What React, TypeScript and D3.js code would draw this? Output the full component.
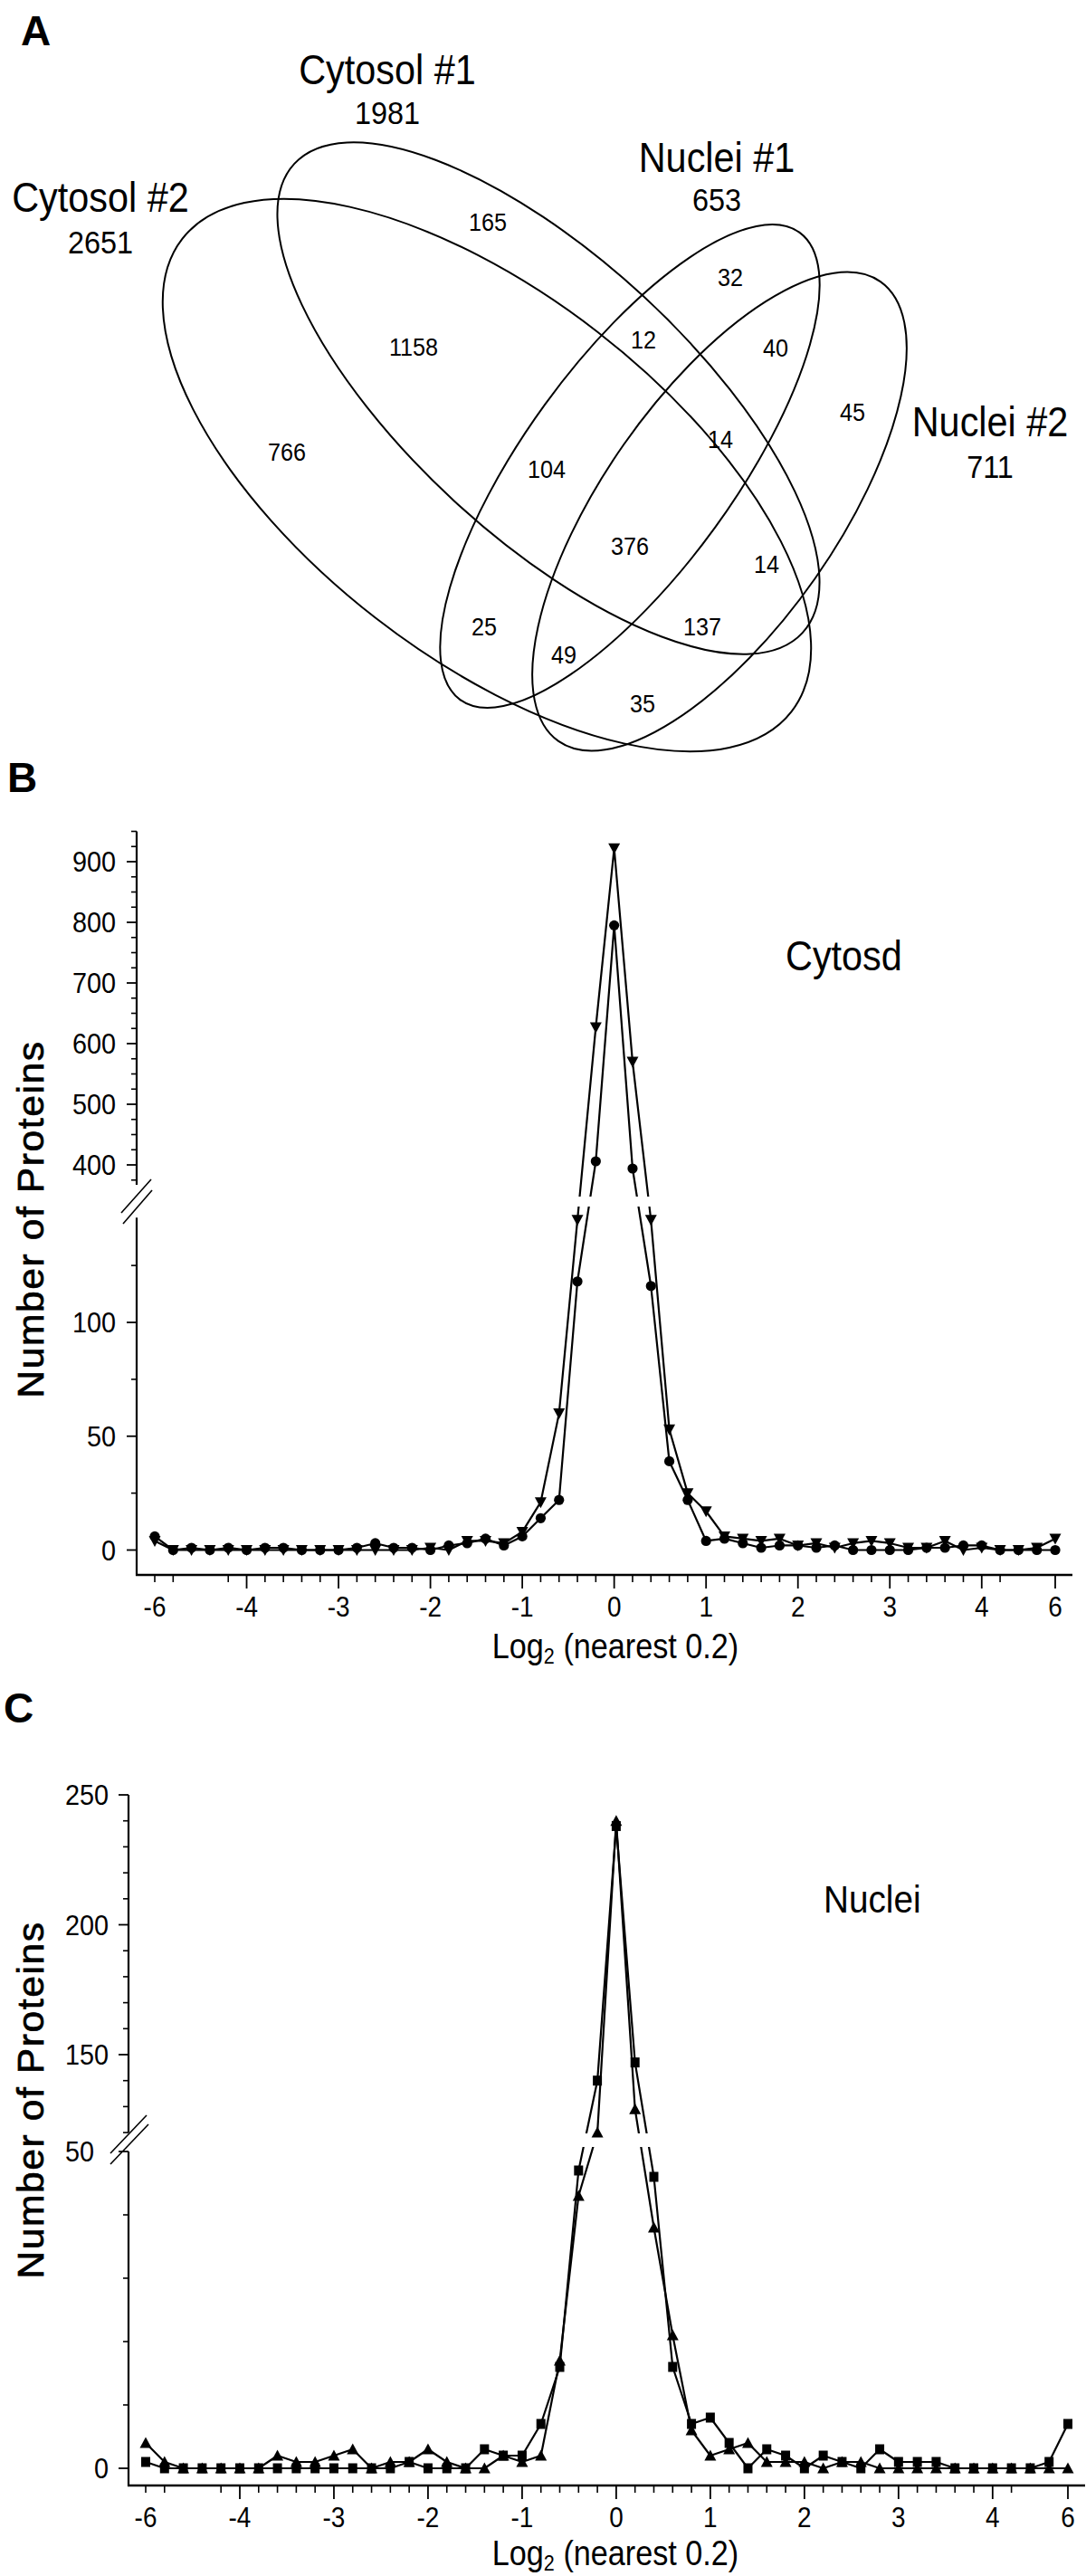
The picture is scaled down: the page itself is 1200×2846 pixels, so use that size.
import React from "react";
import * as d3 from "d3";

// ---------------- DATA ----------------
// Venn diagram (panel A)
const vennSetNames = ["Cytosol #2", "Cytosol #1", "Nuclei #1", "Nuclei #2"];
const vennSetTotals = [2651, 1981, 653, 711];
const vennRegionCounts = [165, 32, 1158, 12, 40, 45, 14, 766, 104, 376, 14, 25, 137, 49, 35];

// Histogram bins (log2 ratio, nearest 0.2); first bin labelled -6, last bin labelled 6
const binPos = [
  -5.0, -4.8, -4.6, -4.4, -4.2, -4.0, -3.8, -3.6, -3.4, -3.2,
  -3.0, -2.8, -2.6, -2.4, -2.2, -2.0, -1.8, -1.6, -1.4, -1.2,
  -1.0, -0.8, -0.6, -0.4, -0.2, 0.0, 0.2, 0.4, 0.6, 0.8,
  1.0, 1.2, 1.4, 1.6, 1.8, 2.0, 2.2, 2.4, 2.6, 2.8,
  3.0, 3.2, 3.4, 3.6, 3.8, 4.0, 4.2, 4.4, 4.6, 4.8,
];
const xTickPos = [-5, -4, -3, -2, -1, 0, 1, 2, 3, 4, 4.8];
const xTickLabels = ["-6", "-4", "-3", "-2", "-1", "0", "1", "2", "3", "4", "6"];
const xMinorSkip = [-4.6, -4.4, 4.4, 4.6];

// Panel B: cytosol
const cytCircle = [
  6, 0, 1, 0, 1, 0, 1, 1, 0, 0,
  0, 1, 3, 1, 1, 0, 2, 3, 5, 2,
  6, 14, 22, 118, 406, 795, 394, 116, 39, 22,
  4, 5, 3, 1, 2, 2, 1, 2, 0, 0,
  0, 0, 1, 1, 2, 2, 0, 0, 0, 0,
];
const cytTriangle = [
  4, 0, 0, 0, 0, 0, 0, 0, 0, 0,
  0, 0, 0, 0, 0, 1, 0, 4, 4, 3,
  8, 21, 60, 145, 627, 922, 570, 145, 53, 25,
  17, 6, 5, 4, 5, 2, 3, 1, 3, 4,
  3, 1, 1, 4, 0, 1, 0, 0, 1, 5,
];
const bUpperLabels = [400, 500, 600, 700, 800, 900];
const bLowerLabels = [0, 50, 100];

// Panel C: nuclei
const nucSquare = [
  1, 0, 0, 0, 0, 0, 0, 0, 0, 0,
  0, 0, 0, 0, 1, 0, 0, 0, 3, 2,
  2, 7, 16, 47, 140, 238, 147, 46, 16, 7,
  8, 4, 0, 3, 2, 0, 2, 1, 0, 3,
  1, 1, 1, 0, 0, 0, 0, 0, 1, 7,
];
const nucTriangle = [
  4, 1, 0, 0, 0, 0, 0, 2, 1, 1,
  2, 3, 0, 1, 1, 3, 1, 0, 0, 2,
  1, 2, 17, 43, 120, 240, 129, 38, 21, 6,
  2, 3, 4, 1, 1, 1, 0, 1, 1, 0,
  0, 0, 0, 0, 0, 0, 0, 0, 0, 0,
];
const cUpperLabels = [150, 200, 250];
const cLowerLabels = [0, 50];

// ---------------- LAYOUT ----------------
const FONT = "'Liberation Sans', Arial, Helvetica, sans-serif";
const SX = 0.9;

const ellipseGeom = [
  { cx: 538, cy: 525, rx: 426, ry: 200, rot: 37.8 },
  { cx: 606, cy: 440, rx: 382, ry: 154, rot: 42.7 },
  { cx: 696, cy: 515, rx: 319, ry: 116, rot: -54 },
  { cx: 795, cy: 565, rx: 310, ry: 129, rot: -55 },
];
const setLabelPos = [
  { x: 111, y: 218, ny: 267 },
  { x: 428, y: 77, ny: 124 },
  { x: 792, y: 174, ny: 220 },
  { x: 1094, y: 466, ny: 515 },
];
const regionPos = [
  [539, 245], [807, 306], [457, 383], [711, 375], [857, 384], [942, 455],
  [796, 485], [317, 499], [604, 518], [696, 603], [847, 623], [535, 692],
  [776, 692], [623, 723], [710, 777],
];

function NT({ x, y, size, anchor = "middle", children, weight = "normal", sx = SX }: any) {
  return (
    <text
      transform={`translate(${x},${y}) scale(${sx},1)`}
      fontSize={size}
      textAnchor={anchor}
      fontFamily={FONT}
      fontWeight={weight}
      fill="#000"
    >
      {children}
    </text>
  );
}

function Panel(props: any) {
  const {
    axisX, xAxisY, xRange, up, low, thresh, gap, upperLine, lowerLine,
    upperLabels, upperMinor, lowerLabels, lowerMinor, breakMarks,
    series, title, titlePos, yTitleY, tickLabelX, lowerLabelShift, xTitleY,
  } = props;
  const x = d3.scaleLinear().domain([-5, 4.8]).range(xRange);
  const yU = d3.scaleLinear().domain(up.dom).range(up.rng);
  const yL = d3.scaleLinear().domain(low.dom).range(low.rng);
  const y = (v: number) => (v >= thresh ? yU(v) : yL(v));
  const line = d3
    .line<number>()
    .x((_, i) => x(binPos[i]))
    .y((d) => y(d));
  const rightEnd = xRange[1] + 19;

  const marker = (kind: string, cx: number, cy: number, k: number) => {
    if (kind === "circle") return <circle key={k} cx={cx} cy={cy} r={5.6} fill="#000" />;
    if (kind === "down")
      return <path key={k} d={`M${cx - 6.5},${cy - 5.5}L${cx + 6.5},${cy - 5.5}L${cx},${cy + 6.5}Z`} fill="#000" />;
    if (kind === "up")
      return <path key={k} d={`M${cx - 6.5},${cy + 5.5}L${cx + 6.5},${cy + 5.5}L${cx},${cy - 6.5}Z`} fill="#000" />;
    return <rect key={k} x={cx - 5} y={cy - 5.5} width={10} height={11} fill="#000" />;
  };

  const minorX = binPos.filter(
    (p) => !xMinorSkip.some((s) => Math.abs(s - p) < 1e-6) && !xTickPos.slice(1).some((s) => Math.abs(s - p) < 1e-6)
  );

  return (
    <g>
      {/* data lines */}
      {series.map((s: any, i: number) => (
        <path key={"l" + i} d={line(s.values) || ""} fill="none" stroke="#000" strokeWidth={2.2} strokeLinejoin="round" />
      ))}
      {/* break gap in data */}
      <rect x={axisX + 2} y={gap[0]} width={rightEnd - axisX} height={gap[1] - gap[0]} fill="#fff" />
      {/* markers */}
      {series.map((s: any, i: number) => (
        <g key={"m" + i}>{s.values.map((v: number, j: number) => marker(s.kind, x(binPos[j]), y(v), j))}</g>
      ))}
      {/* y axis */}
      <line x1={axisX} x2={axisX} y1={yU(upperLine[0])} y2={yU(upperLine[1])} stroke="#000" strokeWidth={2.2} />
      <line x1={axisX} x2={axisX} y1={yL(lowerLine)} y2={xAxisY + 1} stroke="#000" strokeWidth={2.2} />
      {upperLabels.map((t: number) => (
        <g key={"ul" + t}>
          <line x1={axisX - 11} x2={axisX} y1={yU(t)} y2={yU(t)} stroke="#000" strokeWidth={1.8} />
          <NT x={tickLabelX} y={yU(t) + 11} size={32} anchor="end">{t}</NT>
        </g>
      ))}
      {upperMinor.map((t: number) => (
        <line key={"um" + t} x1={axisX - 6} x2={axisX} y1={yU(t)} y2={yU(t)} stroke="#000" strokeWidth={1.6} />
      ))}
      {lowerLabels.map((t: number) => (
        <g key={"ll" + t}>
          <line x1={axisX - 11} x2={axisX} y1={yL(t)} y2={yL(t)} stroke="#000" strokeWidth={1.8} />
          <NT x={tickLabelX - (lowerLabelShift[t] || 0)} y={yL(t) + 11} size={32} anchor="end">{t}</NT>
        </g>
      ))}
      {lowerMinor.map((t: number) => (
        <line key={"lm" + t} x1={axisX - 6} x2={axisX} y1={yL(t)} y2={yL(t)} stroke="#000" strokeWidth={1.6} />
      ))}
      {breakMarks.map((b: number[], i: number) => (
        <line key={"bk" + i} x1={b[0]} y1={b[1]} x2={b[2]} y2={b[3]} stroke="#000" strokeWidth={1.6} />
      ))}
      {/* x axis */}
      <line x1={axisX - 1} x2={rightEnd} y1={xAxisY} y2={xAxisY} stroke="#000" strokeWidth={2.4} />
      {minorX.map((p, i) => (
        <line key={"xm" + i} x1={x(p)} x2={x(p)} y1={xAxisY} y2={xAxisY + 8} stroke="#000" strokeWidth={1.6} />
      ))}
      {xTickPos.map((p, i) => (
        <g key={"xt" + i}>
          {i > 0 && <line x1={x(p)} x2={x(p)} y1={xAxisY} y2={xAxisY + 15} stroke="#000" strokeWidth={1.8} />}
          <NT x={x(p)} y={xAxisY + 46} size={31}>{xTickLabels[i]}</NT>
        </g>
      ))}
      {/* x title */}
      <text transform={`translate(680,${xTitleY}) scale(${SX},1)`} fontSize={38} textAnchor="middle" fontFamily={FONT}>
        Log<tspan fontSize={24} dy={6}>2</tspan>
        <tspan dy={-6}> (nearest 0.2)</tspan>
      </text>
      {/* y title */}
      <text
        transform={`translate(48,${yTitleY}) rotate(-90) scale(1.04,1)`}
        fontSize={41}
        textAnchor="middle"
        fontFamily={FONT}
        letterSpacing={1.5}
        stroke="#000"
        strokeWidth={0.7}
      >
        Number of Proteins
      </text>
      {/* in-plot label */}
      <NT x={titlePos[0]} y={titlePos[1]} size={titlePos[2]} anchor="start">{title}</NT>
    </g>
  );
}

export default function App() {
  return (
    <svg
      width={1200}
      height={2846}
      viewBox="0 0 1200 2846"
      style={{ position: "absolute", left: 0, top: 0, background: "#fff" }}
    >
      <rect x={0} y={0} width={1200} height={2846} fill="#fff" />
      {/* Panel letters */}
      <text x={23} y={50} fontSize={46} fontWeight="bold" fontFamily={FONT}>A</text>
      <text x={8} y={875} fontSize={46} fontWeight="bold" fontFamily={FONT}>B</text>
      <text x={4} y={1903} fontSize={46} fontWeight="bold" fontFamily={FONT}>C</text>

      {/* Panel A: Venn */}
      <g>
        {ellipseGeom.map((e, i) => (
          <ellipse
            key={"e" + i}
            cx={e.cx}
            cy={e.cy}
            rx={e.rx}
            ry={e.ry}
            transform={`rotate(${e.rot},${e.cx},${e.cy})`}
            fill="none"
            stroke="#000"
            strokeWidth={2}
          />
        ))}
        {vennSetNames.map((n, i) => (
          <g key={"s" + i}>
            <NT x={setLabelPos[i].x} y={setLabelPos[i].y + 16} size={46}>{n}</NT>
            <NT x={setLabelPos[i].x} y={setLabelPos[i].ny + 13} size={36}>{vennSetTotals[i]}</NT>
          </g>
        ))}
        {vennRegionCounts.map((c, i) => (
          <NT key={"r" + i} x={regionPos[i][0]} y={regionPos[i][1] + 10} size={28}>{c}</NT>
        ))}
      </g>

      {/* Panel B */}
      <Panel
        axisX={151}
        xAxisY={1740}
        xRange={[171, 1166]}
        up={{ dom: [400, 900], rng: [1287, 952] }}
        low={{ dom: [0, 100], rng: [1712.5, 1461] }}
        thresh={300}
        gap={[1322, 1333]}
        upperLine={[950, 367]}
        lowerLine={146}
        upperLabels={bUpperLabels}
        upperMinor={d3.range(375, 951, 25).filter((t) => t % 100 !== 0)}
        lowerLabels={bLowerLabels}
        lowerMinor={[25, 75, 125]}
        breakMarks={[
          [134, 1340, 167, 1303],
          [136, 1352, 168, 1315],
        ]}
        series={[
          { kind: "down", values: cytTriangle },
          { kind: "circle", values: cytCircle },
        ]}
        title="Cytosd"
        titlePos={[868, 1072, 46]}
        yTitleY={1347}
        tickLabelX={128}
        lowerLabelShift={{}}
        xTitleY={1832}
      />

      {/* Panel C */}
      <Panel
        axisX={142}
        xAxisY={2746}
        xRange={[161, 1180]}
        up={{ dom: [150, 250], rng: [2270, 1983] }}
        low={{ dom: [0, 50], rng: [2727, 2377] }}
        thresh={100}
        gap={[2357, 2372]}
        upperLine={[250, 120]}
        lowerLine={50}
        upperLabels={cUpperLabels}
        upperMinor={d3.range(120, 251, 10).filter((t) => t % 50 !== 0)}
        lowerLabels={cLowerLabels}
        lowerMinor={[10, 20, 30, 40]}
        breakMarks={[
          [122, 2379, 162, 2337],
          [122, 2391, 164, 2347],
        ]}
        series={[
          { kind: "up", values: nucTriangle },
          { kind: "square", values: nucSquare },
        ]}
        title="Nuclei"
        titlePos={[910, 2113, 43]}
        yTitleY={2320}
        tickLabelX={120}
        lowerLabelShift={{ 50: 16 }}
        xTitleY={2834}
      />
    </svg>
  );
}
